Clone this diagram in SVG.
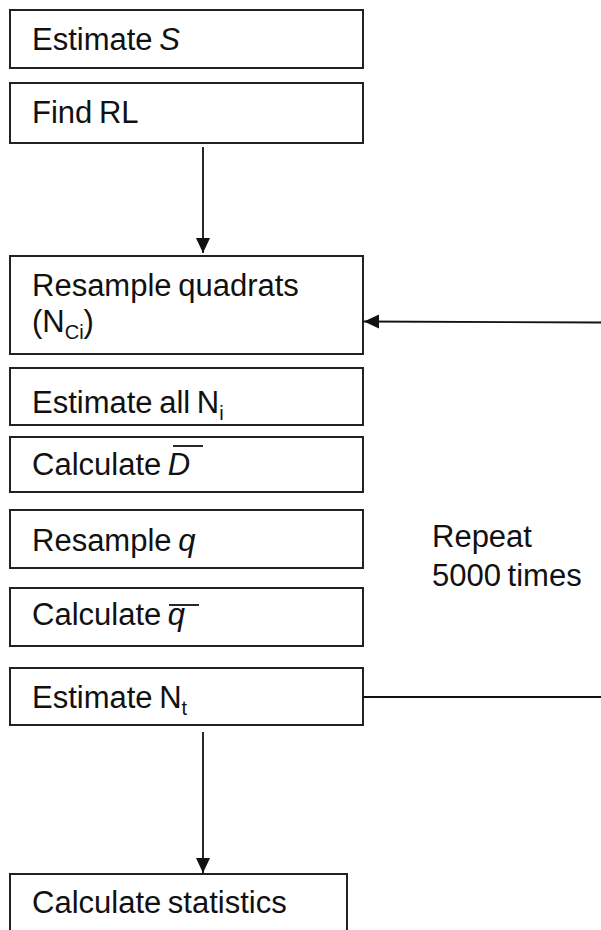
<svg xmlns="http://www.w3.org/2000/svg" width="601" height="930" viewBox="0 0 601 930">
<style>
.box{fill:#fff;stroke:#222;stroke-width:2}
.t{font-family:"Liberation Sans",Arial,sans-serif;font-size:31px;fill:#111;word-spacing:-2px}
.i{font-style:italic}
.s{font-size:20px}
.c{stroke:#111;stroke-width:1.8;fill:none}
</style>
<defs>
<marker id="ah" markerWidth="16" markerHeight="16" refX="15" refY="8" orient="auto" markerUnits="userSpaceOnUse">
<path d="M0,1 L15,8 L0,15 Z" fill="#111"/>
</marker>
</defs>
<rect width="601" height="930" fill="#fff"/>
<g id="n1"><rect class="box" x="10" y="10" width="353" height="58"/><text class="t" x="32" y="50">Estimate <tspan class="i">S</tspan></text></g>
<g id="n2"><rect class="box" x="10" y="83" width="353" height="60"/><text class="t" x="32" y="123">Find RL</text></g>
<g id="n3"><rect class="box" x="10" y="256" width="353" height="98"/><text class="t" x="32" y="296">Resample quadrats</text><text class="t" x="32" y="332">(N<tspan class="s" dy="7">Ci</tspan><tspan dy="-7">)</tspan></text></g>
<g id="n4"><rect class="box" x="10" y="368" width="353" height="57"/><text class="t" x="32" y="413">Estimate all N<tspan class="s" dy="7">i</tspan></text></g>
<g id="n5"><rect class="box" x="10" y="437" width="353" height="55"/><text class="t" x="32" y="475">Calculate <tspan class="i">D</tspan></text><path class="c" d="M173,446 H203"/></g>
<g id="n6"><rect class="box" x="10" y="510" width="353" height="58"/><text class="t" x="32" y="551">Resample <tspan class="i">q</tspan></text></g>
<g id="n7"><rect class="box" x="10" y="588" width="353" height="58"/><text class="t" x="32" y="625">Calculate <tspan class="i">q</tspan></text><path class="c" d="M169,605 H199"/></g>
<g id="n8"><rect class="box" x="10" y="668" width="353" height="57"/><text class="t" x="32" y="708">Estimate N<tspan class="s" dy="7">t</tspan></text></g>
<g id="n9"><rect class="box" x="10" y="874" width="337" height="70"/><text class="t" x="32" y="913">Calculate statistics</text></g>
<g id="label"><text class="t" x="432" y="547">Repeat</text><text class="t" x="432" y="586">5000 times</text></g>
<g id="connectors">
<path class="c" d="M601,322.5 L364,321.5" marker-end="url(#ah)"/>
<path class="c" d="M203,147 V253" marker-end="url(#ah)"/>
<path class="c" d="M363,697 H601"/>
<path class="c" d="M203,732 V873" marker-end="url(#ah)"/>
</g>
</svg>
